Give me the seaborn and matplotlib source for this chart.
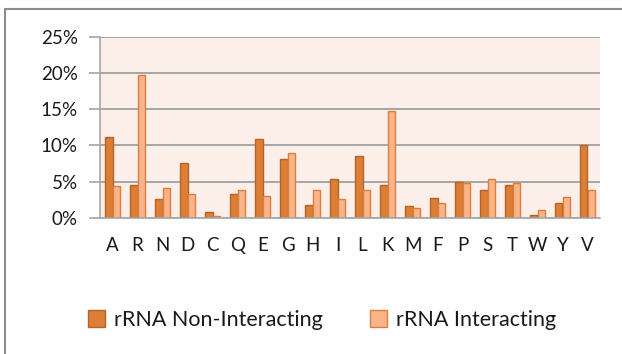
import matplotlib
matplotlib.use("Agg")
import matplotlib.pyplot as plt
import matplotlib.patches as mpatches
from matplotlib.ticker import FuncFormatter, MultipleLocator
import pandas as pd
import seaborn as sns

residues = ["A", "R", "N", "D", "C", "Q", "E", "G", "H", "I",
            "L", "K", "M", "F", "P", "S", "T", "W", "Y", "V"]
non_interacting = [11.2, 4.5, 2.6, 7.6, 0.8, 3.3, 10.9, 8.1, 1.8, 5.4,
                   8.6, 4.5, 1.65, 2.75, 4.9, 3.8, 4.6, 0.45, 2.1, 10.1]
interacting = [4.45, 19.7, 4.1, 3.3, 0.3, 3.9, 3.1, 8.9, 3.8, 2.6,
               3.9, 14.7, 1.4, 2.0, 4.8, 5.4, 4.8, 1.15, 2.9, 3.8]
series_names = ["rRNA Non-Interacting", "rRNA Interacting"]

df = pd.DataFrame({
    "residue": residues * 2,
    "percent": non_interacting + interacting,
    "group": [series_names[0]] * len(residues) + [series_names[1]] * len(residues),
})

face_colors = ["#DC7E35", "#FBB38A"]
edge_colors = ["#B86326", "#D9803F"]

sns.set_theme(style="white")
plt.rcParams["font.family"] = ["Lato", "DejaVu Sans"]

W, H = 622, 354
fig = plt.figure(figsize=(W / 100, H / 100), dpi=100)
ax = fig.add_axes([100 / W, 1 - 218 / H, 500 / W, (218 - 36.7) / H])

sns.barplot(data=df, x="residue", y="percent", hue="group",
            hue_order=series_names, order=residues,
            palette=face_colors, saturation=1, width=0.6, gap=0,
            ax=ax, legend=False)
for cont, ec in zip(ax.containers, edge_colors):
    for bar in cont:
        bar.set_edgecolor(ec)
        bar.set_linewidth(1.0)

ax.set_facecolor("#FCEEE8")
ax.set_xlim(-0.5, len(residues) - 0.5)
ax.set_ylim(0, 25)
ax.yaxis.set_major_locator(MultipleLocator(5))
ax.yaxis.set_major_formatter(FuncFormatter(lambda v, p: f"{v:.0f}%"))
ax.grid(axis="y", color="#A6A6A6", linewidth=1.4)
ax.set_axisbelow(True)
ax.set_xlabel("")
ax.set_ylabel("")

for side in ["top", "right"]:
    ax.spines[side].set_visible(False)
for side in ["left", "bottom"]:
    ax.spines[side].set_color("#A6A6A6")
    ax.spines[side].set_linewidth(1.2)

# category labels centred on each pair, tick marks on the boundaries
ax.set_xticks(range(len(residues)))
ax.set_xticklabels(residues)
ax.tick_params(axis="x", length=0, pad=14, labelsize=13.5, labelcolor="#1A1A1A")
ax.set_xticks([i - 0.5 for i in range(len(residues) + 1)], minor=True)
ax.tick_params(axis="x", which="minor", length=6, width=1.2, color="#A6A6A6", direction="out")
ax.tick_params(axis="y", length=8, width=1.2, color="#A6A6A6", pad=8,
               labelsize=13.5, labelcolor="#1A1A1A", left=True)

# legend
handles = [mpatches.Patch(facecolor=fc, edgecolor=ec, label=n)
           for fc, ec, n in zip(face_colors, edge_colors, series_names)]
fig.legend(handles=handles, loc="center", bbox_to_anchor=(322 / W, 1 - 320 / H),
           ncol=2, frameon=False, fontsize=15.5, handlelength=0.8, handleheight=0.8,
           handletextpad=0.4, columnspacing=2.2, labelcolor="#1A1A1A")

# outer chart frame
fig.add_artist(plt.Line2D([5 / W, 5 / W], [0, 1 - 9 / H], transform=fig.transFigure,
                          color="#8C8C8C", linewidth=1.5))
fig.add_artist(plt.Line2D([5 / W, 1], [1 - 9 / H, 1 - 9 / H], transform=fig.transFigure,
                          color="#8C8C8C", linewidth=1.5))

fig.savefig("out.png", dpi=100)
